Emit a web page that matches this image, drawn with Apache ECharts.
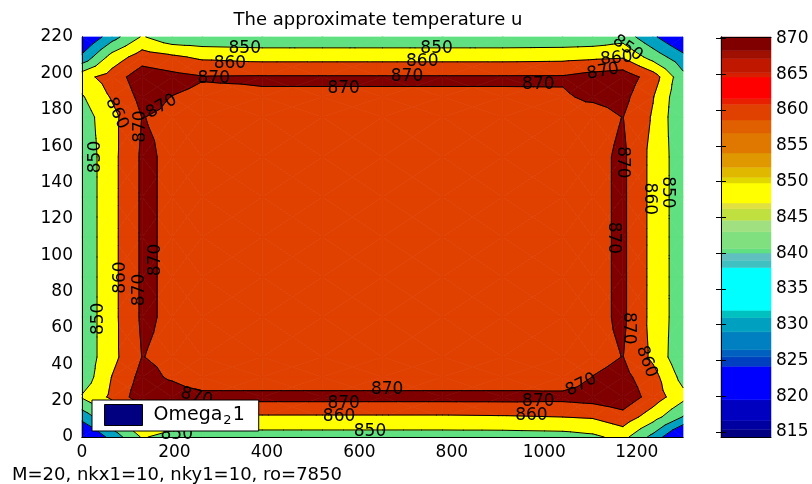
<!DOCTYPE html>
<html>
<head>
<meta charset="utf-8">
<script src="https://cdn.jsdelivr.net/npm/echarts@6/dist/echarts.min.js"></script>
<style>
html, body { margin: 0; padding: 0; background: #fff; }
#chart { width: 812px; height: 484px; }
</style>
</head>
<body>
<div id="chart"></div>
<script>
// grid nodes (x, y) of the temperature field
var xNodes = [0, 65, 130, 195, 260, 390, 520, 650, 780, 910, 1040, 1105, 1170, 1235, 1300];
var yNodes = [0, 11, 22, 33, 44, 66, 88, 110, 132, 154, 176, 187, 198, 209, 220];

// temperature u at the nodes, one array per y node
var u0   = [815, 834, 851, 846, 845.5, 845.4, 845.4, 845.4, 845.4, 845.4, 846, 848, 853.3, 837, 815];
var u11  = [834, 849.5, 862, 859, 858.5, 858.5, 858.5, 858.5, 858.5, 859, 860, 861, 866.2, 854.4, 839.5];
var u22  = [851, 862, 876, 875, 873.5, 873.5, 873.5, 873.5, 873.5, 873.5, 873, 874.5, 877, 865.6, 853];
var u33  = [843.4, 860.3, 873, 868.75, 862.4, 862.4, 862.4, 862.4, 862.4, 862.4, 863, 870.2, 873, 863.7, 846.6];
var u44  = [843, 857, 870.2, 868, 865, 865, 865, 865, 865, 865, 865, 867, 870.2, 858, 842];
var u66  = [843, 857, 871.5, 868.5, 865, 865, 865, 865, 865, 865, 865, 867.1, 871.8, 857, 844];
var u88  = [843, 857, 871.5, 868.5, 865, 865, 865, 865, 865, 865, 865, 867.1, 871.8, 857, 844];
var u110 = [843, 857, 871.5, 868.5, 865, 865, 865, 865, 865, 865, 865, 867.1, 871.8, 857, 844];
var u132 = [843, 857, 871.5, 868.5, 865, 865, 865, 865, 865, 865, 865, 867.1, 871.8, 857, 844];
var u154 = [843, 857, 871.5, 868.5, 865, 865, 865, 865, 865, 865, 865, 867.1, 871.8, 857, 844];
var u176 = [845, 857, 870.2, 868.5, 867, 867, 867, 867, 867, 867, 867, 866, 870.2, 859, 841];
var u187 = [849, 861, 873, 869.8, 868, 869, 869, 869, 869, 869, 869, 871.5, 873, 860.5, 841.5];
var u198 = [856.6, 864.5, 876, 873, 870.6, 870.9, 870.9, 870.9, 870.9, 870.9, 871, 874, 876, 865, 843];
var u209 = [832.2, 854, 865, 861.8, 858.2, 856.5, 856.5, 856.5, 856.5, 856.5, 857, 858, 859, 846, 833.2];
var u220 = [818, 836, 851, 843, 842.5, 842.3, 842.3, 842.3, 842.3, 842.3, 842.5, 843, 846, 832, 818];
var uRows = [u0, u11, u22, u33, u44, u66, u88, u110, u132, u154, u176, u187, u198, u209, u220];

// contour levels and fill colours (one more colour than levels)
var levels = [830, 840, 850, 860, 870];
var bandColors = ['#0000ff', '#00a0c0', '#60e080', '#ffff00', '#e04000', '#800000'];

// colour bar steps, bottom to top
var cbEdges = [814.3, 815.4, 816.6, 819.5, 824.2, 825.5, 826.5, 829.0, 831.0, 832.0, 838.0,
  839.0, 840.0, 840.6, 843.0, 844.6, 846.2, 847.0, 849.8, 850.6, 852.0, 854.0, 856.8,
  858.6, 860.8, 861.6, 864.6, 865.2, 867.2, 868.3, 870.2];
var cbColors = ['#000080', '#0000a0', '#0000c0', '#0000ff', '#0040c0', '#0060c0', '#0080c0',
  '#00a0c0', '#00c0c0', '#00ffff', '#40c0c0', '#60c0c0', '#60e080', '#80e080', '#a0e080',
  '#c0e040', '#e0e040', '#ffff00', '#e0d800', '#e0b800', '#e09800', '#e07800', '#e06000',
  '#e04000', '#e82000', '#ff0000', '#d82000', '#c01800', '#a01000', '#800000'];
var cbTicks = [815, 820, 825, 830, 835, 840, 845, 850, 855, 860, 865, 870];

// contour labels
var labelX = [352, 320, 285, 566, 172, 127, 75, 30, 84, 125, 159, 35, 248, 660, 566, 556, 623, 205,
  1080, 987, 972, 1181, 1221, 1170, 1228, 1266, 1149, 1127, 1156, 1180, 767, 736, 703, 987];
var labelY = [213.4, 205.5, 197.3, 191.8, 181.7, 170.7, 178, 154, 87.7, 80.9, 97.4, 65, 22, 25.9, 18.5, 11.2, 2.9, 1.6,
  28.6, 19.4, 11.8, 59.8, 41.4, 151, 131, 134.5, 109.5, 201, 208.3, 213.8, 213.8, 206.4, 198.2, 194];
var labelText = ['850', '860', '870', '870', '870', '870', '860', '850', '860', '870', '870', '850', '870', '870', '870', '860', '850', '850',
  '870', '870', '860', '870', '860', '870', '860', '850', '870', '870', '860', '850', '850', '860', '870', '870'];
var labelAngle = [0, 0, 0, 0, 30, 90, -65, 90, 90, 90, 90, 90, -15, 0, 0, 0, 0, 0,
  26, 0, 0, -90, -70, -90, -90, -90, -90, 10, 5, -35, 0, 0, 0, 0];

function clip(poly, lev, above) {
  var out = [];
  for (var k = 0; k < poly.length; k++) {
    var a = poly[k], c = poly[(k + 1) % poly.length];
    var ina = above ? a[2] >= lev : a[2] <= lev;
    var inc = above ? c[2] >= lev : c[2] <= lev;
    if (ina) out.push(a);
    if (ina !== inc) {
      var t = (lev - a[2]) / (c[2] - a[2]);
      out.push([a[0] + t * (c[0] - a[0]), a[1] + t * (c[1] - a[1]), lev]);
    }
  }
  return out;
}

// filled bands and contour segments, cell by cell
var fills = [], segs = [];
for (var j = 0; j < yNodes.length - 1; j++) {
  for (var i = 0; i < xNodes.length - 1; i++) {
    var p00 = [xNodes[i], yNodes[j], uRows[j][i]];
    var p10 = [xNodes[i + 1], yNodes[j], uRows[j][i + 1]];
    var p11 = [xNodes[i + 1], yNodes[j + 1], uRows[j + 1][i + 1]];
    var p01 = [xNodes[i], yNodes[j + 1], uRows[j + 1][i]];
    var pc = [(p00[0] + p10[0]) / 2, (p00[1] + p01[1]) / 2, (p00[2] + p10[2] + p11[2] + p01[2]) / 4];
    [[p00, p10, pc], [p10, p11, pc], [p11, p01, pc], [p01, p00, pc]].forEach(function (tri) {
      for (var b = 0; b < bandColors.length; b++) {
        var poly = tri;
        if (b > 0) poly = clip(poly, levels[b - 1], true);
        if (b < levels.length) poly = clip(poly, levels[b], false);
        if (poly.length >= 3) fills.push({ pts: poly, band: b });
      }
      levels.forEach(function (lev) {
        var cut = [];
        for (var k = 0; k < 3; k++) {
          var a = tri[k], c = tri[(k + 1) % 3];
          if ((a[2] >= lev) !== (c[2] >= lev)) {
            var t = (lev - a[2]) / (c[2] - a[2]);
            cut.push([a[0] + t * (c[0] - a[0]), a[1] + t * (c[1] - a[1])]);
          }
        }
        if (cut.length === 2) segs.push(cut);
      });
    });
  }
}

var FONT = 'DejaVu Sans';
var plain = function (v) { return String(v); };
var chart = echarts.init(document.getElementById('chart'));
chart.setOption({
  animation: false,
  textStyle: { fontFamily: FONT },
  grid: [
    { left: 82, top: 37, width: 601, height: 400, outerBoundsMode: 'none' },
    { left: 721, top: 37, width: 50, height: 400, outerBoundsMode: 'none' }
  ],
  xAxis: [
    { gridIndex: 0, type: 'value', min: 0, max: 1300, interval: 200, position: 'bottom', z: 5,
      axisLine: { lineStyle: { color: '#000', width: 1 } }, axisTick: { show: false }, splitLine: { show: false },
      axisLabel: { color: '#000', fontSize: 17, fontFamily: FONT, margin: 7, showMaxLabel: false, formatter: plain } },
    { gridIndex: 0, type: 'value', min: 0, max: 1300, position: 'top', z: 5,
      axisLine: { lineStyle: { color: '#000', width: 1 } }, axisTick: { show: false }, splitLine: { show: false },
      axisLabel: { show: false } },
    { gridIndex: 1, type: 'value', min: 0, max: 1, position: 'bottom', z: 5,
      axisLine: { lineStyle: { color: '#000', width: 1 } }, axisTick: { show: false }, splitLine: { show: false },
      axisLabel: { show: false } },
    { gridIndex: 1, type: 'value', min: 0, max: 1, position: 'top', z: 5,
      axisLine: { lineStyle: { color: '#000', width: 1 } }, axisTick: { show: false }, splitLine: { show: false },
      axisLabel: { show: false } }
  ],
  yAxis: [
    { gridIndex: 0, type: 'value', min: 0, max: 220, interval: 20, position: 'left', z: 5,
      axisLine: { show: true, lineStyle: { color: '#000', width: 1 } }, axisTick: { show: false }, splitLine: { show: false },
      axisLabel: { color: '#000', fontSize: 17, fontFamily: FONT, margin: 9, formatter: plain } },
    { gridIndex: 0, type: 'value', min: 0, max: 220, position: 'right', z: 5,
      axisLine: { show: true, lineStyle: { color: '#000', width: 1 } }, axisTick: { show: false }, splitLine: { show: false },
      axisLabel: { show: false } },
    { gridIndex: 1, type: 'value', min: 814.3, max: 870.2, position: 'right', z: 5,
      axisLine: { show: true, lineStyle: { color: '#000', width: 1 } }, splitLine: { show: false },
      axisTick: { show: true, inside: true, length: 5, customValues: cbTicks, lineStyle: { color: '#000' } },
      axisLabel: { color: '#000', fontSize: 17, fontFamily: FONT, margin: 5, customValues: cbTicks, formatter: plain } },
    { gridIndex: 1, type: 'value', min: 814.3, max: 870.2, position: 'left', z: 5,
      axisLine: { show: true, lineStyle: { color: '#000', width: 1 } }, splitLine: { show: false },
      axisTick: { show: true, inside: true, length: 5, customValues: cbTicks, lineStyle: { color: '#000' } },
      axisLabel: { show: false } }
  ],
  legend: {
    data: [{ name: 'Omega_21', icon: 'rect', itemStyle: { color: '#000080', borderColor: '#000', borderWidth: 1 } }],
    left: 92, top: 400, itemWidth: 38, itemHeight: 21, padding: [4, 14, 4, 12],
    backgroundColor: '#fff', borderColor: '#000', borderWidth: 1, borderRadius: 0,
    selectedMode: false, z: 10,
    formatter: function () { return '{o|Omega}{s|2}{a|1}'; },
    textStyle: {
      color: '#000', fontFamily: FONT, fontSize: 19,
      rich: {
        o: { fontSize: 19, fontFamily: FONT, color: '#000', padding: [0, 0, 0, 6] },
        a: { fontSize: 19, fontFamily: FONT, color: '#000' },
        s: { fontSize: 13, fontFamily: FONT, color: '#000', padding: [11, 1, 0, 1] }
      }
    }
  },
  graphic: [
    { type: 'text', x: 378, y: 20, z: 10,
      style: { text: 'The approximate temperature u', fontSize: 18, fontFamily: FONT, fill: '#000', align: 'center', verticalAlign: 'middle' } },
    { type: 'text', x: 12, y: 475, z: 10,
      style: { text: 'M=20, nkx1=10, nky1=10, ro=7850', fontSize: 18, fontFamily: FONT, fill: '#000', align: 'left', verticalAlign: 'middle' } }
  ],
  series: [
    {
      type: 'custom', name: 'Omega_21', xAxisIndex: 0, yAxisIndex: 0, silent: true, z: 2,
      data: fills.map(function (f) { return [f.pts[0][0], f.pts[0][1]]; }),
      renderItem: function (params, api) {
        var f = fills[params.dataIndex];
        return {
          type: 'polygon',
          shape: { points: f.pts.map(function (p) { return api.coord([p[0], p[1]]); }) },
          style: { fill: bandColors[f.band], stroke: bandColors[f.band], lineWidth: 0.7 }
        };
      }
    },
    {
      type: 'custom', name: 'contours', xAxisIndex: 0, yAxisIndex: 0, silent: true, z: 3,
      data: segs.map(function (s) { return [s[0][0], s[0][1]]; }),
      renderItem: function (params, api) {
        var s = segs[params.dataIndex];
        var a = api.coord(s[0]), b = api.coord(s[1]);
        return {
          type: 'line',
          shape: { x1: a[0], y1: a[1], x2: b[0], y2: b[1] },
          style: { stroke: '#000', lineWidth: 1, lineCap: 'round' }
        };
      }
    },
    {
      type: 'custom', name: 'labels', xAxisIndex: 0, yAxisIndex: 0, silent: true, z: 4, clip: false,
      data: labelX.map(function (x, k) { return [x, labelY[k]]; }),
      renderItem: function (params, api) {
        var k = params.dataIndex;
        var p = api.coord([labelX[k], labelY[k]]);
        return {
          type: 'text', x: p[0], y: p[1], rotation: labelAngle[k] * Math.PI / 180,
          style: { text: labelText[k], fill: '#000', fontSize: 17, fontFamily: FONT, align: 'center', verticalAlign: 'middle' }
        };
      }
    },
    {
      type: 'custom', name: 'colorbar', xAxisIndex: 2, yAxisIndex: 2, silent: true, z: 2,
      data: cbColors.map(function (c, k) { return [0, cbEdges[k]]; }),
      renderItem: function (params, api) {
        var k = params.dataIndex;
        var a = api.coord([0, cbEdges[k]]), b = api.coord([1, cbEdges[k + 1]]);
        return {
          type: 'rect',
          shape: { x: a[0], y: b[1], width: b[0] - a[0], height: a[1] - b[1] },
          style: { fill: cbColors[k], stroke: cbColors[k], lineWidth: 0.5 }
        };
      }
    }
  ]
});
</script>
</body>
</html>
